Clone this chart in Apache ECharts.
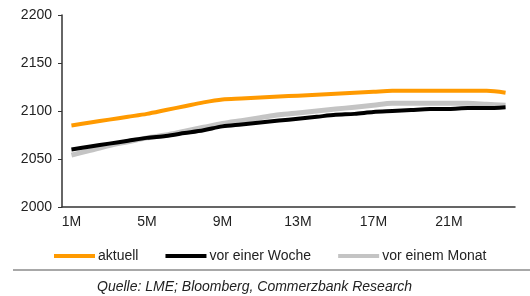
<!DOCTYPE html>
<html>
<head>
<meta charset="utf-8">
<script src="https://cdn.jsdelivr.net/npm/echarts@6/dist/echarts.min.js"></script>
<style>
    html, body { margin: 0; padding: 0; background: #fff; }
    #container { width: 530px; height: 296px; }
</style>
</head>
<body>
<div id="container"></div>
<script>
    var months = ['1M','2M','3M','4M','5M','6M','7M','8M','9M','10M','11M','12M',
                  '13M','14M','15M','16M','17M','18M','19M','20M','21M','22M','23M','24M'];
    // Terminkurve heute
    var aktuell = [2085,2088,2091,2094,2097,2101,2105,2109,2112,2113,2114,2115,
                   2116,2117,2118,2119,2120,2121,2121,2121,2121,2121,2121,2119];
    // vor einer Woche
    var woche = [2060,2063,2066,2069,2072,2074,2077,2080,2084,2086,2088,2090,
                 2092,2094,2096,2097,2099,2100,2101,2102,2102,2103,2103,2104];
    // vor einem Monat
    var monat = [2054,2059,2064,2068,2072,2075,2079,2083,2087,2090,2093,2096,
                 2098,2100,2102,2104,2106,2108,2108,2108,2108,2108,2107,2106];
    var yTicks = [2000, 2200, 50];
    var seriesNames = ['aktuell', 'vor einer Woche', 'vor einem Monat'];
    var font = 'Liberation Sans, Arial, sans-serif';

    var dom = document.getElementById("container");
    var myChart = echarts.init(dom);
    var option = null;

    option = {
        animation: false,
        grid: {
            left: 62,
            right: 15,
            top: 15,
            bottom: 89
        },
        legend: {
            data: seriesNames,
            left: 49,
            top: 244,
            itemWidth: 41,
            itemHeight: 4,
            itemGap: 27,
            icon: 'rect',
            textStyle: { fontFamily: font, fontSize: 14, color: '#222', padding: [0, 0, 0, -2] }
        },
        title: {
            text: 'Quelle: LME; Bloomberg, Commerzbank Research',
            left: 97,
            top: 280,
            padding: 0,
            textStyle: { fontFamily: font, fontSize: 14, fontStyle: 'italic', fontWeight: 'normal', color: '#222' }
        },
        graphic: [{
            type: 'line',
            shape: { x1: 13, y1: 270, x2: 530, y2: 270 },
            style: { stroke: '#a8a8a8', lineWidth: 2 }
        }],
        xAxis: {
            type: 'category',
            data: months,
            boundaryGap: true,
            axisLine: { lineStyle: { color: '#333', width: 1.5 } },
            axisTick: { interval: 3, length: 4, lineStyle: { color: '#333' } },
            axisLabel: { interval: 3, margin: 8, fontFamily: font, fontSize: 14, color: '#222' }
        },
        yAxis: {
            type: 'value',
            min: yTicks[0],
            max: yTicks[1],
            interval: yTicks[2],
            axisLine: { show: true, lineStyle: { color: '#333', width: 1.5 } },
            axisTick: { show: true, length: 4, lineStyle: { color: '#333' } },
            splitLine: { show: false },
            axisLabel: {
                margin: 10, fontFamily: font, fontSize: 14, color: '#222',
                formatter: function (v) { return String(v); }
            }
        },
        series: [
            {
                name: seriesNames[0],
                type: 'line',
                data: aktuell,
                smooth: 0.3,
                symbol: 'none',
                z: 4,
                itemStyle: { color: '#ff9a00' },
                lineStyle: { color: '#ff9a00', width: 4 }
            },
            {
                name: seriesNames[1],
                type: 'line',
                data: woche,
                smooth: 0.3,
                symbol: 'none',
                z: 3,
                itemStyle: { color: '#000' },
                lineStyle: { color: '#000', width: 4 }
            },
            {
                name: seriesNames[2],
                type: 'line',
                data: monat,
                smooth: 0.3,
                symbol: 'none',
                z: 2,
                itemStyle: { color: '#c4c4c4' },
                lineStyle: { color: '#c4c4c4', width: 5 }
            }
        ]
    };

    if (option && typeof option === "object") {
        myChart.setOption(option, true);
    }
</script>
</body>
</html>
